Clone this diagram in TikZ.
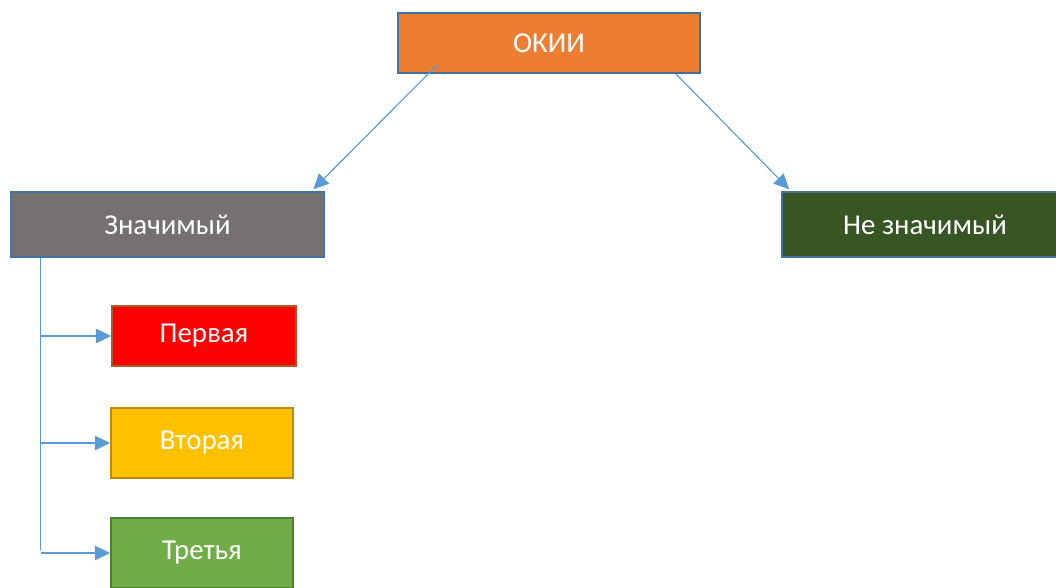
\documentclass[tikz,border=0pt]{standalone}
\usepackage{fontspec}
\setmainfont{Carlito}
\usepackage{xcolor}
\usepackage{tikz}
\usetikzlibrary{positioning,arrows.meta,calc}

\definecolor{edgeblue}{HTML}{41719C}
\definecolor{lineblue}{HTML}{5B9BD5}
\definecolor{okiiorange}{HTML}{ED7D31}
\definecolor{sigrey}{HTML}{767171}
\definecolor{nsgreen}{HTML}{375623}
\definecolor{lvlred}{HTML}{FF0000}
\definecolor{lvlredline}{HTML}{AE5A21}
\definecolor{lvlyellow}{HTML}{FFC000}
\definecolor{lvlyellowline}{HTML}{BC8C00}
\definecolor{lvlgreen}{HTML}{70AD47}
\definecolor{lvlgreenline}{HTML}{507E32}

\begin{document}
\begin{tikzpicture}[
  x=0.025cm, y=-0.025cm,
  box/.style={draw=edgeblue, line width=1.2pt, text=white, align=center,
              font=\fontsize{20.5}{24}\selectfont, inner sep=0pt},
  top/.style={box, fill=okiiorange, minimum width=7.55cm, minimum height=1.5cm},
  mid/.style={box, minimum width=7.85cm, minimum height=1.62cm},
  lvl/.style={box, minimum width=4.55cm, minimum height=1.5cm},
  >={Triangle[length=3.8mm, width=3.6mm]},
  con/.style={->, draw=lineblue, fill=lineblue, line width=0.8pt}
]
  \clip (0,0) rectangle (1056,587);
  \useasboundingbox (0,0) rectangle (1056,587);

  % --- top level
  \node[top] (okii) at (549,43) {ОКИИ};
  \node[mid, fill=sigrey] (sig) at (167.5,224.5) {Значимый};
  \node[mid, fill=nsgreen] (nsig) at (939,224.5) {\hspace*{-0.7cm}Не значимый};

  \draw[con] ($(okii.south west)+(40,-9)$) -- ($(sig.north east)+(-12,-2)$);
  \draw[con] ($(okii.south east)+(-25,0)$) -- ($(nsig.north west)+(8,-2)$);

  % --- levels
  \node[lvl, fill=lvlred, draw=lvlredline, minimum width=4.6cm] (perv) at (204,336) {Первая};
  \node[lvl, fill=lvlyellow, draw=lvlyellowline, minimum height=1.75cm] (vtor) at (202,443) {Вторая};
  \node[lvl, fill=lvlgreen, draw=lvlgreenline, minimum height=1.75cm] (tret) at (202,553) {Третья};

  \coordinate (trunk) at ($(sig.south west)+(31,0)$);
  \draw[lineblue, line width=0.8pt] (trunk) -- ++(0,292);
  \draw[con] (trunk |- perv) -- (perv.west);
  \draw[con] (trunk |- vtor) -- (vtor.west);
  \draw[con] (trunk |- tret) -- (tret.west);
\end{tikzpicture}
\end{document}
